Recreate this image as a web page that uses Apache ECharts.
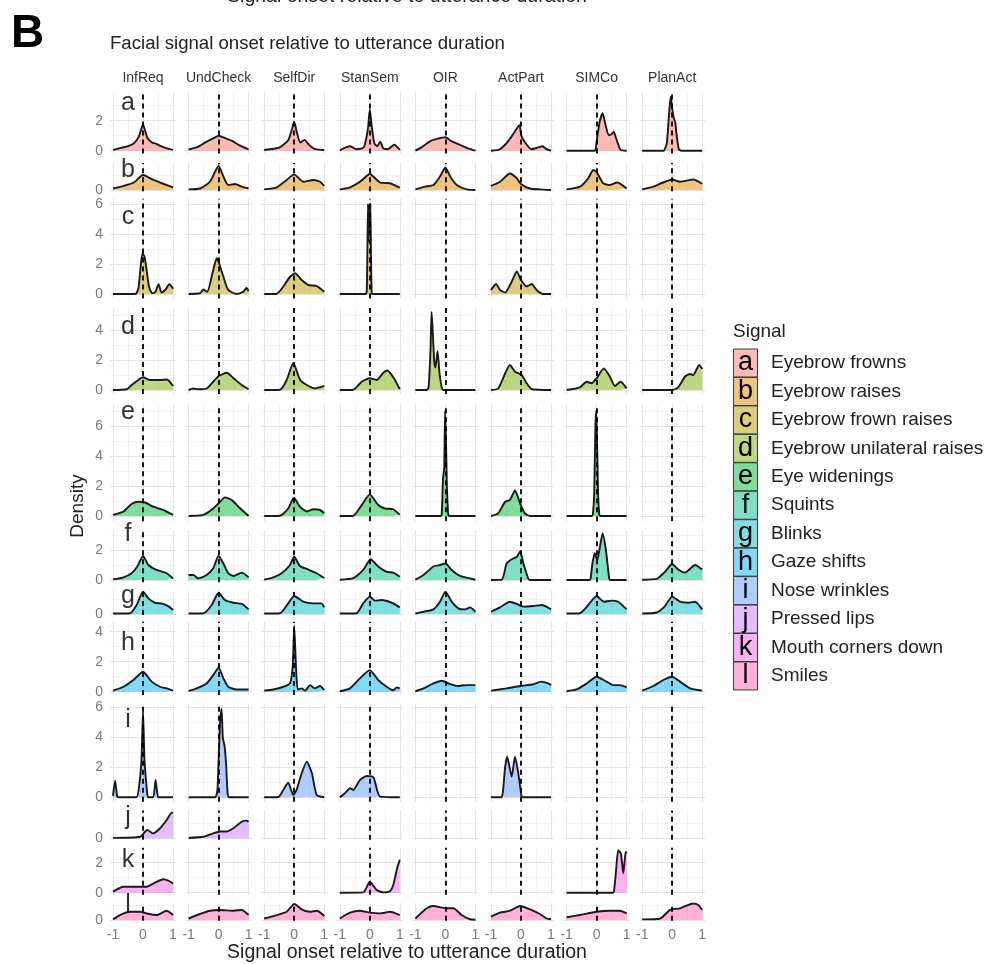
<!DOCTYPE html>
<html>
<head>
<meta charset="utf-8">
<script src="https://cdn.jsdelivr.net/npm/echarts@6/dist/echarts.min.js"></script>
<style>html,body{margin:0;padding:0;background:#fff}#c{width:994px;height:964px}</style>
</head>
<body>
<div id="c"></div>
<script>
// ---------------- DATA ----------------
const categories = ['InfReq','UndCheck','SelfDir','StanSem','OIR','ActPart','SIMCo','PlanAct'];
const signalLetters = ['a','b','c','d','e','f','g','h','i','j','k','l'];
const signalNames = ['Eyebrow frowns','Eyebrow raises','Eyebrow frown raises','Eyebrow unilateral raises','Eye widenings','Squints','Blinks','Gaze shifts','Nose wrinkles','Pressed lips','Mouth corners down','Smiles'];
const xTickLabels = [-1, 0, 1];
const yTickLabels = [0, 2, 4, 6];

// density curves: each row = one signal, 8 panels in category order, points [x, density]
const rowA = [
  [[-1,0.05],[-0.8,0.15],[-0.5,0.3],[-0.3,0.5],[-0.15,0.9],[-0.05,1.5],[0,1.75],[0.06,1.4],[0.15,0.85],[0.3,0.55],[0.45,0.45],[0.6,0.3],[0.8,0.15],[1,0.05]],
  [[-1,0.08],[-0.7,0.25],[-0.4,0.6],[-0.15,0.85],[0,1.0],[0.2,0.85],[0.45,0.65],[0.7,0.35],[1,0.08]],
  [[-1,0.05],[-0.5,0.2],[-0.2,0.7],[-0.08,1.4],[0,1.93],[0.08,1.3],[0.2,0.55],[0.35,0.72],[0.5,0.37],[0.7,0.1],[1,0.05]],
  [[-1,0.02],[-0.8,0.22],[-0.65,0.3],[-0.45,0.1],[-0.2,0.22],[-0.06,1.5],[0,2.75],[0.06,1.7],[0.15,0.5],[0.25,0.3],[0.35,0.6],[0.45,0.15],[0.6,0.1],[0.82,0.4],[1,0.05]],
  [[-1,0],[-0.8,0.22],[-0.5,0.64],[-0.25,0.8],[0,0.9],[0.2,0.64],[0.5,0.38],[0.75,0.15],[1,0]],
  [[-1,0],[-0.7,0.1],[-0.4,0.7],[-0.1,1.6],[-0.05,1.7],[0.02,0.95],[0.2,0.38],[0.35,0.1],[0.55,0.2],[0.72,0.3],[0.85,0.1],[1,0]],
  [[-1,0],[-0.07,0],[-0.03,0.1],[0,0.6],[0.1,1.9],[0.2,2.5],[0.3,1.7],[0.4,1.05],[0.5,1.1],[0.57,1.27],[0.67,0.7],[0.8,0.05],[1,0]],
  [[-1,0],[-0.27,0],[-0.25,0.02],[-0.18,0.5],[-0.1,2.6],[-0.05,3.6],[0,2.8],[0.05,2.2],[0.1,1.9],[0.15,1.0],[0.22,0.1],[0.3,0],[1,0]]
];
const rowB = [
  [[-1,0.1],[-0.65,0.27],[-0.3,0.5],[0,1.0],[0.35,0.67],[0.7,0.4],[1,0.18]],
  [[-1,0.04],[-0.62,0.1],[-0.29,0.55],[0,1.6],[0.16,0.9],[0.32,0.33],[0.55,0.4],[0.77,0.22],[1,0.1]],
  [[-1,0.04],[-0.58,0.18],[-0.25,0.67],[0,1.04],[0.3,0.55],[0.64,0.67],[0.86,0.55],[1,0.27]],
  [[-1,0.04],[-0.66,0.18],[-0.33,0.55],[0,1.07],[0.34,0.5],[0.67,0.45],[1,0.15]],
  [[-1,0.04],[-0.68,0.22],[-0.4,0.33],[-0.18,0.9],[0,1.5],[0.16,0.9],[0.38,0.33],[0.71,0.04],[1,0]],
  [[-1,0.27],[-0.7,0.55],[-0.37,1.1],[-0.14,0.78],[0,0.4],[0.3,0.1],[0.63,0.04],[1,0]],
  [[-1,0.04],[-0.55,0.22],[-0.28,0.78],[-0.11,1.33],[0,1.2],[0.22,0.45],[0.44,0.33],[0.69,0.5],[1,0.1]],
  [[-1,0.04],[-0.63,0.22],[-0.3,0.5],[0,0.7],[0.26,0.55],[0.7,0.7],[1,0.42]]
];
const rowC = [
  [[-1,0],[-0.27,0],[-0.22,0.05],[-0.15,0.4],[-0.08,1.8],[-0.02,2.7],[0.05,2.5],[0.12,1.6],[0.2,0.5],[0.3,0.05],[0.4,0.1],[0.52,0.65],[0.62,0.1],[0.75,0.3],[0.88,0.65],[1,0.35]],
  [[-1,0],[-0.62,0.05],[-0.51,0.3],[-0.38,0.15],[-0.18,1.6],[-0.06,2.38],[0,2.15],[0.16,1.15],[0.32,0.27],[0.6,0],[0.82,0.15],[0.93,0.4],[1,0.2]],
  [[-1,0],[-0.58,0.02],[-0.36,0.5],[-0.14,1.15],[0.03,1.38],[0.25,0.93],[0.47,0.6],[0.75,0.53],[1,0.15]],
  [[-1,0],[-0.13,0],[-0.1,0.3],[-0.08,3],[-0.06,6.0],[-0.04,3.5],[-0.02,5.9],[0,4.5],[0.02,6.0],[0.04,2.5],[0.06,0.2],[0.08,0],[1,0]],
  [],
  [[-1,0.27],[-0.83,0.67],[-0.7,0.27],[-0.53,0.1],[-0.31,0.82],[-0.14,1.5],[0,0.93],[0.19,0.5],[0.36,0.67],[0.52,0.27],[0.74,0],[1,0]],
  [],
  []
];
const rowD = [
  [[-1,0],[-0.54,0.05],[-0.38,0.33],[-0.16,0.67],[0,0.85],[0.23,0.67],[0.57,0.67],[0.8,0.7],[1,0.27]],
  [[-1,0],[-0.84,0.1],[-0.68,0.05],[-0.4,0.1],[-0.18,0.55],[0,0.93],[0.27,1.15],[0.5,0.78],[0.77,0.33],[1,0.05]],
  [[-1,0],[-0.47,0.02],[-0.25,0.67],[-0.03,1.78],[0.2,0.67],[0.42,0.33],[0.69,0.1],[0.86,0.18],[1,0.27]],
  [[-1,0],[-0.55,0.02],[-0.27,0.55],[0,0.78],[0.23,0.67],[0.45,1.15],[0.58,1.3],[0.8,0.8],[1,0.05]],
  [[-1,0],[-0.62,0],[-0.56,0.2],[-0.5,2.5],[-0.46,5.2],[-0.42,3.8],[-0.37,1.9],[-0.33,1.5],[-0.26,2.6],[-0.2,1.2],[-0.12,0.15],[-0.06,0],[1,0]],
  [[-1,0],[-0.76,0.1],[-0.53,1.1],[-0.37,1.67],[-0.2,1.22],[0.02,1.0],[0.19,0.45],[0.36,0.05],[1,0]],
  [[-1,0],[-0.56,0.18],[-0.33,0.55],[-0.17,0.45],[0,0.78],[0.24,1.44],[0.44,0.9],[0.61,0.27],[0.8,0.55],[1,0.1]],
  [[-1,0],[0,0],[0.2,0.18],[0.43,0.9],[0.6,1.07],[0.7,1.0],[0.9,1.67],[1,1.4]]
];
const rowE = [
  [[-1,0.07],[-0.65,0.3],[-0.38,0.8],[-0.16,0.95],[0.07,0.9],[0.34,0.62],[0.68,0.4],[1,0.07]],
  [[-1,0],[-0.51,0.07],[-0.18,0.5],[0.05,0.95],[0.21,1.24],[0.44,1.07],[0.66,0.62],[1,0]],
  [[-1,0],[-0.47,0.02],[-0.2,0.5],[-0.01,1.22],[0.19,0.62],[0.42,0.3],[0.64,0.45],[0.86,0.4],[1,0.18]],
  [[-1,0],[-0.55,0.02],[-0.27,0.73],[0,1.44],[0.28,0.73],[0.5,0.5],[0.78,0.45],[1,0.07]],
  [[-1,0],[-0.16,0],[-0.12,0.2],[-0.08,2.5],[-0.04,3.2],[-0.01,7.0],[0.02,5.0],[0.05,2.0],[0.09,0.2],[0.12,0],[1,0]],
  [[-1,0],[-0.76,0.18],[-0.53,0.95],[-0.37,1.07],[-0.2,1.7],[-0.03,0.84],[0.13,0.18],[0.3,0],[1,0]],
  [[-1,0],[-0.16,0],[-0.12,0.2],[-0.08,1.5],[-0.04,6.0],[-0.01,7.0],[0.02,4.5],[0.05,1.5],[0.09,0.1],[0.12,0],[1,0]],
  []
];
const rowF = [
  [[-1,0.04],[-0.65,0.18],[-0.38,0.45],[-0.19,0.9],[0,1.6],[0.18,1.0],[0.45,0.67],[0.79,0.45],[1,0.1]],
  [[-1,0.33],[-0.84,0.33],[-0.68,0.1],[-0.4,0.33],[-0.18,0.78],[0,1.6],[0.16,1.1],[0.32,0.45],[0.49,0.27],[0.77,0.49],[1,0.18]],
  [[-1,0.02],[-0.7,0.18],[-0.42,0.45],[-0.14,1.0],[0,1.55],[0.19,0.93],[0.47,0.7],[0.75,0.45],[1,0.13]],
  [[-1,0.02],[-0.55,0.13],[-0.22,0.67],[0.03,1.38],[0.28,0.9],[0.56,0.55],[0.78,0.49],[1,0.22]],
  [[-1,0.02],[-0.73,0.33],[-0.4,0.9],[-0.18,1.0],[0,1.1],[0.21,0.67],[0.49,0.27],[1,0.02]],
  [[-1,0],[-0.64,0.02],[-0.48,1.1],[-0.31,1.38],[-0.14,1.55],[-0.03,1.9],[0.08,1.1],[0.24,0.1],[0.3,0],[1,0]],
  [[-1,0],[-0.24,0],[-0.2,0.1],[-0.14,1.1],[-0.06,1.78],[0.02,1.33],[0.11,2.2],[0.2,3.1],[0.31,2.0],[0.42,0.1],[0.46,0],[1,0]],
  [[-1,0.02],[-0.52,0.07],[-0.24,0.55],[0,1.07],[0.2,0.7],[0.43,0.49],[0.76,1.0],[1,0.7]]
];
const rowG = [
  [[-1,0.03],[-0.43,0.05],[-0.21,0.6],[0,1.49],[0.18,1.04],[0.4,0.75],[0.62,0.7],[0.84,0.53],[1,0.27]],
  [[-1,0.03],[-0.5,0.05],[-0.23,0.6],[0,1.42],[0.21,0.93],[0.49,0.75],[0.77,0.67],[1,0.31]],
  [[-1,0.03],[-0.47,0.05],[-0.2,0.71],[0,1.2],[0.3,0.82],[0.64,0.71],[0.91,0.71],[1,0.44]],
  [[-1,0.03],[-0.44,0.05],[-0.22,0.71],[0,1.16],[0.17,0.89],[0.4,0.93],[0.73,0.75],[1,0.44]],
  [[-1,0.03],[-0.73,0.15],[-0.4,0.31],[-0.18,0.82],[0,1.49],[0.21,0.82],[0.43,0.38],[0.66,0.31],[0.82,0.44],[1,0.15]],
  [[-1,0.15],[-0.7,0.44],[-0.37,0.82],[-0.14,0.67],[0.08,0.49],[0.41,0.53],[0.69,0.6],[1,0.31]],
  [[-1,0.03],[-0.56,0.05],[-0.28,0.6],[0,1.2],[0.24,0.82],[0.5,0.89],[0.72,0.82],[1,0.31]],
  [[-1,0.03],[-0.52,0.1],[-0.24,0.53],[0,1.16],[0.26,0.82],[0.54,0.75],[0.76,0.82],[1,0.31]]
];
const rowH = [
  [[-1,0.07],[-0.65,0.33],[-0.32,0.78],[0,1.33],[0.29,0.67],[0.57,0.33],[0.79,0.22],[1,0.07]],
  [[-1,0.05],[-0.73,0.22],[-0.4,0.55],[-0.18,1.1],[0,1.6],[0.16,0.89],[0.32,0.33],[0.6,0.15],[1,0.15]],
  [[-1,0.07],[-0.7,0.15],[-0.36,0.33],[-0.14,0.55],[-0.05,1.67],[0,4.38],[0.06,1.67],[0.12,0.15],[0.25,0.22],[0.36,0.07],[0.53,0.44],[0.69,0.22],[0.86,0.38],[1,0.1]],
  [[-1,0.03],[-0.66,0.22],[-0.33,0.89],[0,1.44],[0.28,0.78],[0.56,0.33],[0.78,0.1],[0.9,0.29],[1,0.22]],
  [[-1,0.03],[-0.73,0.22],[-0.4,0.55],[-0.12,0.73],[0.16,0.5],[0.43,0.38],[0.71,0.44],[1,0.44]],
  [[-1,0.07],[-0.48,0.22],[-0.03,0.38],[0.41,0.5],[0.69,0.67],[0.91,0.55],[1,0.44]],
  [[-1,0.03],[-0.67,0.15],[-0.33,0.55],[0,1.0],[0.28,0.73],[0.56,0.44],[0.78,0.44],[1,0.29]],
  [[-1,0.07],[-0.63,0.38],[-0.3,0.78],[0,1.0],[0.26,0.67],[0.6,0.22],[1,0.07]]
];
const rowI = [
  [[-1,0.1],[-0.93,1.1],[-0.86,0.05],[-0.8,0],[-0.22,0],[-0.12,0.9],[-0.05,2.5],[0,5.7],[0.05,2.5],[0.12,0.7],[0.17,0],[0.34,0],[0.42,1.15],[0.5,0],[0.56,0],[1,0]],
  [[-1,0],[-0.12,0],[-0.04,0.5],[0,2.5],[0.05,5.0],[0.1,5.9],[0.14,4.0],[0.2,3.4],[0.25,2.2],[0.3,0.3],[0.35,0],[1,0]],
  [[-1,0],[-0.53,0.02],[-0.36,0.5],[-0.2,0.98],[-0.03,0.15],[0.08,0.5],[0.25,1.6],[0.42,2.38],[0.59,1.6],[0.75,0.15],[1,0]],
  [[-1,0],[-0.83,0.27],[-0.66,0.6],[-0.55,0.49],[-0.33,1.15],[-0.1,1.42],[0.12,1.33],[0.34,0.05],[1,0]],
  [],
  [[-1,0],[-0.66,0],[-0.6,0.4],[-0.53,2.0],[-0.46,2.7],[-0.31,1.38],[-0.2,2.7],[-0.09,1.6],[0.02,0.05],[0.06,0],[1,0]],
  [],
  []
];
const rowJ = [
  [[-1,0.03],[-0.1,0.1],[0.14,0.55],[0.34,0.33],[0.57,0.67],[0.79,1.22],[0.96,1.71],[1,1.67]],
  [[-1,0.02],[-0.51,0.1],[-0.18,0.33],[0.05,0.45],[0.27,0.45],[0.49,0.67],[0.77,1.1],[0.93,1.18],[1,1.1]],
  [],[],[],[],[],[]
];
const rowK = [
  [[-1,0.07],[-0.65,0.4],[-0.21,0.4],[0.12,0.4],[0.4,0.67],[0.68,0.9],[0.84,0.8],[1,0.62]],
  [],
  [],
  [[-1,0],[-0.22,0.02],[0,0.73],[0.23,0.18],[0.45,0.02],[0.67,0.1],[0.78,0.5],[0.85,1.1],[0.92,1.7],[1,2.2]],
  [],
  [],
  [[-1,0],[0.54,0],[0.58,0.1],[0.64,1.29],[0.72,2.84],[0.81,2.6],[0.89,1.29],[0.97,2.73],[1,2.6]],
  []
];
const rowL = [
  [[-1,0.04],[-0.77,0.33],[-0.43,0.55],[-0.1,0.55],[0.12,0.44],[0.46,0.33],[0.79,0.62],[1,0.33]],
  [[-1,0.1],[-0.62,0.4],[-0.29,0.62],[0.05,0.67],[0.49,0.62],[0.77,0.67],[1,0.33]],
  [[-1,0.1],[-0.58,0.33],[-0.25,0.55],[0,1.07],[0.25,0.71],[0.53,0.55],[0.75,0.62],[1,0.27]],
  [[-1,0.1],[-0.66,0.49],[-0.33,0.62],[0,0.49],[0.34,0.44],[0.67,0.55],[1,0.33]],
  [[-1,0.1],[-0.62,0.78],[-0.4,0.93],[0,0.78],[0.27,0.78],[0.54,0.33],[0.82,0.05],[1,0.02]],
  [[-1,0.22],[-0.7,0.49],[-0.37,0.62],[-0.03,0.93],[0.3,0.71],[0.63,0.4],[0.86,0.1],[1,0.05]],
  [[-1,0.18],[-0.56,0.33],[0,0.55],[0.44,0.62],[0.78,0.62],[1,0.44]],
  [[-1,0.04],[-0.4,0.1],[-0.07,0.67],[0.26,0.78],[0.7,1.1],[0.87,1.0],[1,0.67]]
];
const rows = [rowA,rowB,rowC,rowD,rowE,rowF,rowG,rowH,rowI,rowJ,rowK,rowL];

// ---------------- LAYOUT / STYLE ----------------
const layout = {
  colCenter0: 143, colStep: 75.6, halfWidth: 33,
  pxPerUnit: 15,
  rowZero: [150.7,190,294,390,516,580,614,691.7,797.3,838.3,892.7,920],
  rowMax: [3.9,1.8,6.35,5.48,7.42,3.27,1.56,4.67,6.23,1.86,2.99,1.12],
  letterY: [3.16,1.33,5.15,4.17,6.95,3.07,1.2,3.25,5.15,1.42,2.18,1.0],
  letterX: -0.5
};
const hues = ['#F8766D','#DE8C00','#B79F00','#7CAE00','#00BA38','#00C08B','#00BFC4','#00B4F0','#619CFF','#C77CFF','#F564E3','#FF64B0'];
const FONT = 'Liberation Sans, Arial, Helvetica, sans-serif';
function rgba(hex, a){
  const n = parseInt(hex.slice(1),16);
  return 'rgba(' + ((n>>16)&255) + ',' + ((n>>8)&255) + ',' + (n&255) + ',' + a + ')';
}

const option = {animation:false, backgroundColor:'#fff', grid:[], xAxis:[], yAxis:[], series:[], graphic:[]};
const nCol = categories.length;
const majorC = '#e4e4e4', minorC = '#f0f0f0';

rows.forEach((row, r) => {
  const yMax = layout.rowMax[r];
  const yMin = -yMax / 21;
  const top = layout.rowZero[r] - yMax * layout.pxPerUnit;
  const height = (yMax - yMin) * layout.pxPerUnit;
  const majors = yTickLabels.filter(v => v <= yMax);
  const minors = [1,3,5,7].filter(v => v <= yMax);
  categories.forEach((cat, c) => {
    const idx = r * nCol + c;
    const center = layout.colCenter0 + c * layout.colStep;
    option.grid.push({left: center - layout.halfWidth, top: top, width: 2 * layout.halfWidth, height: height});
    option.xAxis.push({
      gridIndex: idx, type: 'value', min: -1.1, max: 1.1,
      axisLine: {show:false}, axisTick: {show:false}, splitLine: {show:false},
      axisLabel: {show: r === rows.length - 1, customValues: xTickLabels, color:'#7a7a7a', fontSize:14, fontFamily: FONT, margin: 7,
        formatter: v => String(v)}
    });
    option.yAxis.push({
      gridIndex: idx, type: 'value', min: yMin, max: yMax,
      axisLine: {show:false}, axisTick: {show:false}, splitLine: {show:false},
      axisLabel: {show: c === 0, customValues: majors, color:'#7a7a7a', fontSize:14, fontFamily: FONT, margin: 7,
        formatter: v => String(v)}
    });
    const gridLines = [];
    [-1, 1].forEach(v => gridLines.push({xAxis: v, lineStyle: {color: majorC, width: 1.1, type:'solid'}}));
    [-0.5, 0.5].forEach(v => gridLines.push({xAxis: v, lineStyle: {color: minorC, width: 0.8, type:'solid'}}));
    majors.forEach(v => gridLines.push({yAxis: v, lineStyle: {color: majorC, width: 1.1, type:'solid'}}));
    minors.forEach(v => gridLines.push({yAxis: v, lineStyle: {color: minorC, width: 0.8, type:'solid'}}));
    gridLines.push({xAxis: 0, lineStyle: {color: majorC, width: 1.1, type:'solid'}});
    option.series.push({
      type: 'line', xAxisIndex: idx, yAxisIndex: idx, data: [], silent: true, z: 1,
      markLine: {silent: true, symbol: ['none','none'], label: {show:false}, z: 1, animation:false, data: gridLines}
    });
    option.series.push({
      type: 'line', xAxisIndex: idx, yAxisIndex: idx, data: row[c], silent: true, z: 3,
      showSymbol: false, symbol: 'none', smooth: 0.2,
      lineStyle: {color: '#1a1a1a', width: 1.9},
      areaStyle: {color: rgba(hues[r], 0.5), opacity: 1, origin: 0},
      markLine: {silent: true, symbol: ['none','none'], label: {show:false}, z: 6, animation:false,
        data: [{xAxis: 0, lineStyle: {color: '#000', width: 1.8, type: [5, 4]}}]}
    });
  });
  option.series.push({
    type: 'scatter', xAxisIndex: r * nCol, yAxisIndex: r * nCol, silent: true, z: 10,
    data: [[layout.letterX, layout.letterY[r]]], symbolSize: 1, itemStyle: {color: 'rgba(0,0,0,0)'},
    label: {show: true, position: 'inside', formatter: signalLetters[r], fontSize: 25, color: '#000', fontFamily: FONT}
  });
});

categories.forEach((cat, c) => {
  option.graphic.push({type:'text', x: layout.colCenter0 + c * layout.colStep, y: 78, silent: true,
    style: {text: cat, fill: '#333', font: '14px ' + FONT, textAlign: 'center', textVerticalAlign: 'middle'}});
});
option.graphic.push({type:'text', x: 407, y: -3, silent: true,
  style: {text: 'Signal onset relative to utterance duration', fill: '#222', font: '19.5px ' + FONT, textAlign: 'center', textVerticalAlign: 'middle'}});
option.graphic.push({type:'text', x: 11, y: 34, silent: true,
  style: {text: 'B', fill: '#000', font: 'bold 46px ' + FONT, textAlign: 'left', textVerticalAlign: 'middle'}});
option.graphic.push({type:'text', x: 110, y: 44, silent: true,
  style: {text: 'Facial signal onset relative to utterance duration', fill: '#222', font: '18.6px ' + FONT, textAlign: 'left', textVerticalAlign: 'middle'}});
option.graphic.push({type:'text', x: 407, y: 953, silent: true,
  style: {text: 'Signal onset relative to utterance duration', fill: '#222', font: '19.5px ' + FONT, textAlign: 'center', textVerticalAlign: 'middle'}});
option.graphic.push({type:'text', x: 78, y: 506, rotation: Math.PI / 2, silent: true,
  style: {text: 'Density', fill: '#222', font: '19px ' + FONT, textAlign: 'center', textVerticalAlign: 'middle'}});

option.graphic.push({type:'text', x: 733, y: 332, silent: true,
  style: {text: 'Signal', fill: '#222', font: '19px ' + FONT, textAlign: 'left', textVerticalAlign: 'middle'}});
signalNames.forEach((name, i) => {
  const cy = 363 + 28.45 * i;
  option.graphic.push({type:'rect', silent: true, shape: {x: 733.5, y: cy - 14, width: 24, height: 28},
    style: {fill: rgba(hues[i], 0.5), stroke: '#3a3a3a', lineWidth: 1}});
  option.graphic.push({type:'text', x: 745.5, y: cy, silent: true,
    style: {text: signalLetters[i], fill: '#000', font: '27px ' + FONT, textAlign: 'center', textVerticalAlign: 'middle'}});
  option.graphic.push({type:'text', x: 771, y: cy, silent: true,
    style: {text: name, fill: '#222', font: '19px ' + FONT, textAlign: 'left', textVerticalAlign: 'middle'}});
});

const chart = echarts.init(document.getElementById('c'), null, {renderer: 'canvas'});
chart.setOption(option);
</script>
</body>
</html>
